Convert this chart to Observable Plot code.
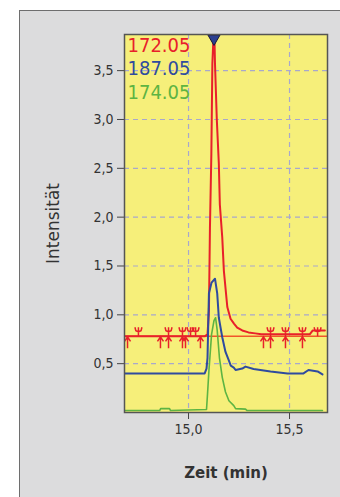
<!DOCTYPE html>
<html><head><meta charset="utf-8">
<script src="https://cdn.jsdelivr.net/npm/d3@7"></script>
<script src="https://cdn.jsdelivr.net/npm/@observablehq/plot@0.6"></script>
<style>
html,body{margin:0;padding:0;background:#fff;}
#wrap{position:relative;width:340px;height:497px;overflow:hidden;}
#panel{position:absolute;left:19px;top:10px;width:340px;height:500px;background:#dcdcdd;border-left:1.5px solid #6e6e6e;border-top:1.5px solid #6e6e6e;}
#chart{position:absolute;left:0;top:0;}
</style></head><body>
<div id="wrap"><div id="panel"></div><div id="chart"></div></div>
<script>
// ---- data ----
const massLabels = ["172.05", "187.05", "174.05"];
const traceColors = ["#e8202a", "#2f4b9f", "#5db443"];
const xTicks = [15.0, 15.5];
const yTicks = [0.5, 1.0, 1.5, 2.0, 2.5, 3.0, 3.5];
const xLabel = ["Zeit (min)"];
const yLabel = ["Intensität"];

const redTime = [14.683, 15.080, 15.094, 15.101, 15.106, 15.113, 15.118, 15.124, 15.128, 15.131, 15.140, 15.150, 15.155, 15.167, 15.175, 15.192, 15.208, 15.225, 15.241, 15.266, 15.297, 15.330, 15.360, 15.600, 15.615, 15.675];
const redIntensity = [0.78, 0.78, 0.80, 1.04, 1.89, 2.65, 3.57, 3.87, 3.87, 3.57, 3.00, 2.55, 2.13, 1.79, 1.45, 1.08, 0.96, 0.91, 0.87, 0.84, 0.82, 0.81, 0.80, 0.80, 0.84, 0.84];

const blueTime = [14.683, 15.080, 15.089, 15.094, 15.101, 15.114, 15.131, 15.142, 15.150, 15.167, 15.183, 15.200, 15.209, 15.224, 15.233, 15.266, 15.282, 15.322, 15.406, 15.490, 15.569, 15.594, 15.639, 15.663];
const blueIntensity = [0.40, 0.40, 0.45, 0.56, 1.22, 1.33, 1.37, 1.22, 0.97, 0.77, 0.62, 0.53, 0.48, 0.46, 0.435, 0.45, 0.47, 0.445, 0.42, 0.40, 0.40, 0.435, 0.42, 0.39];

const greenTime = [14.683, 14.857, 14.862, 14.906, 14.911, 15.089, 15.094, 15.101, 15.114, 15.126, 15.134, 15.142, 15.153, 15.167, 15.183, 15.200, 15.224, 15.233, 15.282, 15.290, 15.663];
const greenIntensity = [0.02, 0.02, 0.04, 0.04, 0.02, 0.03, 0.19, 0.43, 0.80, 0.94, 0.97, 0.84, 0.56, 0.36, 0.21, 0.12, 0.07, 0.04, 0.035, 0.02, 0.02];

const thresholdLevel = [0.78];
const spikeUpTime = [14.752, 14.901, 14.970, 15.010, 15.035, 15.406, 15.480, 15.564, 15.639];
const spikeDownTime = [14.698, 14.861, 14.901, 14.970, 14.985, 15.059, 15.371, 15.406, 15.480, 15.564];
const peakTime = [15.126];

// ---- build tables ----
const series = [
  {time: redTime, val: redIntensity, color: traceColors[0], w: 2},
  {time: blueTime, val: blueIntensity, color: traceColors[1], w: 2},
  {time: greenTime, val: greenIntensity, color: traceColors[2], w: 1.6}
].map(s => ({...s, rows: s.time.map((t, i) => ({t, v: s.val[i]}))}));

const spikeUp = spikeUpTime.map(t => ({t, v: thresholdLevel[0]}));
const spikeDown = spikeDownTime.map(t => ({t, v: thresholdLevel[0]}));
const peakMarker = peakTime.map(t => ({t, v: 3.87}));

const psiSymbol = {draw(c) {
  c.moveTo(0, 0); c.lineTo(0, -9);
  c.moveTo(-3.5, -9); c.lineTo(-2.6, -5.6); c.lineTo(0, -4.5); c.lineTo(2.6, -5.6); c.lineTo(3.5, -9);
}};
const arrowSymbol = {draw(c) {
  c.moveTo(0, 0); c.lineTo(0, 12);
  c.moveTo(-3, 5); c.lineTo(0, 0.5); c.lineTo(3, 5);
}};

const fmt = d => d.toFixed(1).replace(".", ",");
const font = "'DejaVu Sans Condensed', 'DejaVu Sans', sans-serif";
const font2 = "'DejaVu Sans', sans-serif";

const chart = Plot.plot({
  width: 340, height: 497,
  marginLeft: 124, marginRight: 13, marginTop: 34, marginBottom: 85,
  style: {background: "transparent", fontFamily: font, fontSize: "14px", color: "#333"},
  x: {domain: [14.683, 15.688]},
  y: {domain: [0, 3.87]},
  marks: [
    Plot.frame({fill: "#f6ef7a"}),
    Plot.gridY(yTicks, {stroke: "#a8a8cc", strokeOpacity: 1, strokeWidth: 1.2, strokeDasharray: "5,4"}),
    Plot.gridX(xTicks, {stroke: "#a8a8cc", strokeOpacity: 1, strokeWidth: 1.2, strokeDasharray: "5,4"}),
    Plot.axisY(yTicks, {tickSize: 7, tickPadding: 4, tickFormat: fmt, label: null, stroke: "#444", fill: "#333", fontSize: 14}),
    Plot.axisX(xTicks, {tickSize: 7, tickPadding: 5, tickFormat: fmt, label: null, stroke: "#444", fill: "#333", fontSize: 14}),
    Plot.ruleY(thresholdLevel, {stroke: "#f0562a", strokeWidth: 1.5}),
    Plot.dot(spikeUp, {x: "t", y: "v", symbol: psiSymbol, fill: "none", stroke: traceColors[0], strokeWidth: 1.5}),
    Plot.dot(spikeDown, {x: "t", y: "v", symbol: arrowSymbol, fill: "none", stroke: traceColors[0], strokeWidth: 1.5}),
    ...series.map(s => Plot.line(s.rows, {x: "t", y: "v", stroke: s.color, strokeWidth: s.w, clip: true})),
    Plot.dot(peakMarker, {x: "t", y: "v", symbol: "triangle", rotate: 180, r: 4.5, dy: 4, fill: "#2b3f8f", stroke: "#1a1a3a", strokeWidth: 1}),
    ...massLabels.map((m, i) => Plot.text([m], {frameAnchor: "top-left", dx: 3, dy: [3, 26.5, 50][i], fill: traceColors[i], fontSize: 20, lineAnchor: "top"})),
    Plot.text(yLabel, {frameAnchor: "left", dx: -71, rotate: -90, fontSize: 17, fontFamily: font2, fill: "#333", textAnchor: "middle", lineAnchor: "middle"}),
    Plot.text(xLabel, {frameAnchor: "bottom", dy: 61, fontSize: 15, fontFamily: font2, fontWeight: "bold", fill: "#333", textAnchor: "middle", lineAnchor: "middle"}),
    Plot.frame({stroke: "#555", strokeWidth: 1.5})
  ]
});
document.getElementById("chart").appendChild(chart);
</script>
</body></html>
